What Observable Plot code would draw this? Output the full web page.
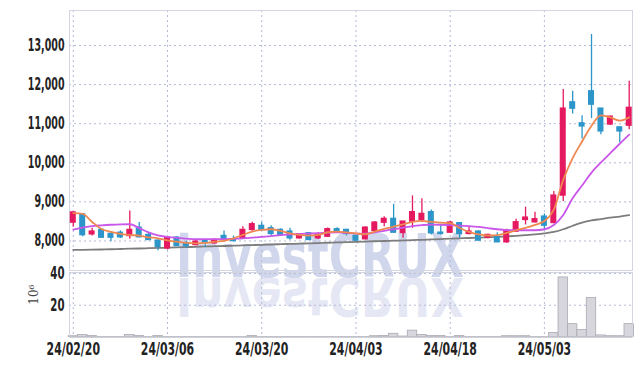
<!DOCTYPE html>
<html><head><meta charset="utf-8">
<script src="https://cdn.jsdelivr.net/npm/d3@7"></script>
<script src="https://cdn.jsdelivr.net/npm/@observablehq/plot@0.6"></script>
<style>
body{margin:0;background:#fff;}
#wrap{position:relative;width:643px;height:366px;overflow:hidden;background:#fff;}
#wrap > *{position:absolute;left:0;}
</style></head><body><div id="wrap"></div>
<script>
const dates = ["24/02/20","24/02/21","24/02/22","24/02/23","24/02/26","24/02/27","24/02/28","24/02/29","24/03/04","24/03/05",
"24/03/06","24/03/07","24/03/08","24/03/11","24/03/12","24/03/13","24/03/14","24/03/15","24/03/18","24/03/19",
"24/03/20","24/03/21","24/03/22","24/03/25","24/03/26","24/03/27","24/03/28","24/03/29","24/04/01","24/04/02",
"24/04/03","24/04/04","24/04/05","24/04/08","24/04/09","24/04/11","24/04/12","24/04/15","24/04/16","24/04/17",
"24/04/18","24/04/19","24/04/22","24/04/23","24/04/24","24/04/25","24/04/26","24/04/29","24/04/30","24/05/02",
"24/05/03","24/05/07","24/05/08","24/05/09","24/05/10","24/05/13","24/05/14","24/05/16","24/05/17","24/05/20"];
const open = [8470,8680,8170,8282,8180,8210,8128,8340,8154,8008,7810,8085,7940,7897,8000,7940,8128,8044,8069,8282,8385,8325,8282,8240,8069,8197,8069,8110,8300,8282,8128,8044,8260,8469,8565,8205,8495,8538,8736,8213,8213,8454,8180,8240,8085,8095,7967,8239,8538,8479,8623,8460,9162,11546,11008,11828,11385,10980,10905,10949];
const high = [8735,8700,8325,8290,8240,8260,8770,8470,8220,8026,8100,8110,7990,8040,8030,8050,8256,8128,8367,8480,8470,8390,8310,8325,8190,8220,8210,8330,8340,8300,8140,8360,8500,8620,8940,8500,9154,9077,8790,8400,8500,8460,8367,8260,8170,8213,8300,8556,8864,8736,8692,9264,11872,11828,11205,13282,11385,11190,10910,12085];
const low = [8360,8110,8128,8075,7982,8060,8045,8080,8010,7750,7770,7860,7820,7880,7830,7920,8000,7970,8050,8250,8260,8130,8130,8020,8050,8010,8040,8090,8190,8130,8000,8030,8240,8367,8200,8069,8325,8470,8150,8150,8200,8070,8160,8000,8060,7960,7940,8220,8410,8460,8300,8440,9008,11249,10608,11128,10718,10960,10505,10846];
const close = [8730,8150,8240,8085,8085,8095,8282,8095,8026,7850,8085,7870,7870,7982,7950,8026,8026,8000,8282,8428,8282,8180,8154,8069,8172,8026,8154,8300,8213,8180,8010,8341,8469,8565,8213,8495,8736,8692,8197,8180,8469,8180,8240,8010,8154,7967,8264,8479,8597,8556,8392,9160,11385,11385,10931,11487,10803,11179,10803,11405];
const volume = [0.5,1.2,0.6,0.05,0.05,0.05,1.2,0.6,0.05,0.6,0.05,0.05,0.05,0.05,0.05,0.05,0.05,0.05,0.05,0.6,0.05,0.05,0.05,0.05,0.05,0.05,0.05,0.05,0.05,0.05,0.05,0.05,0.5,0.6,2.0,0.3,4.0,1.3,0.6,0.6,0.05,0.6,0.05,0.05,0.05,0.05,0.5,0.5,0.5,0.05,0.05,2.6,37.5,8.1,4.4,24.6,1.0,0.5,0.5,8.1];
const ma5 = [8710,8692,8487,8308,8231,8180,8154,8136,8095,8069,8013,7982,7949,7940,7949,7982,8000,8069,8154,8240,8282,8300,8256,8197,8154,8136,8154,8223,8240,8218,8192,8172,8240,8308,8367,8423,8487,8513,8487,8469,8454,8333,8231,8167,8140,8150,8205,8274,8333,8410,8510,8800,9564,10120,10546,10949,11213,11162,11077,11162];
const ma20 = [8290,8340,8380,8400,8415,8425,8428,8330,8218,8141,8103,8077,8059,8044,8045,8045,8045,8055,8065,8085,8105,8125,8150,8165,8180,8190,8200,8215,8220,8210,8190,8185,8220,8260,8300,8340,8380,8405,8420,8415,8405,8395,8380,8360,8330,8300,8280,8275,8275,8275,8300,8410,8667,9094,9418,9750,10008,10249,10487,10718];
const ma60 = [7770,7775,7778,7782,7788,7795,7802,7808,7815,7822,7828,7835,7843,7850,7860,7866,7872,7880,7888,7895,7902,7910,7918,7925,7932,7940,7947,7955,7962,7970,7978,7985,7993,8000,8008,8015,8023,8030,8040,8050,8060,8068,8076,8085,8095,8105,8118,8132,8150,8170,8195,8230,8300,8390,8470,8525,8560,8595,8625,8660];
const priceTicks = [8000,9000,10000,11000,12000,13000];
const volTicks = [20,40];
const xTickIdx = [0,10,20,30,40,50];

const RED = "#e5195f", BLUE = "#2c95c9";
const F = "'DejaVu Sans',sans-serif";
const GRID = "#b4bad6";

const rows = dates.map((d,i)=>({i, date:d, open:open[i], high:high[i], low:low[i], close:close[i], vol:volume[i], ma5:ma5[i], ma20:ma20[i], ma60:ma60[i], up: close[i] >= open[i]}));
const col = d => d.up ? RED : BLUE;
const xDom = [-0.4, 59.35];

const wrap = document.getElementById("wrap");

// watermark (behind)
const ns = "http://www.w3.org/2000/svg";
const wm = document.createElementNS(ns, "svg");
wm.setAttribute("width", 643); wm.setAttribute("height", 366);
wm.innerHTML = `<g font-family="DejaVu Sans" font-weight="bold" font-size="60" text-anchor="middle" fill="#d0d6ec">
<g transform="translate(320,277) scale(0.73,1)"><text x="0" y="0">InvestCRUX</text></g>
<g transform="translate(320,278) scale(0.73,-0.9)" opacity="0.55"><text x="0" y="0">InvestCRUX</text></g></g>`;
wm.style.top = "0px";
wrap.appendChild(wm);

const p1 = Plot.plot({
  width: 643, height: 272,
  marginLeft: 69, marginRight: 11, marginTop: 10, marginBottom: 2,
  style: {background: "transparent", fontFamily: F, fontSize: "17px", fontWeight: "bold", color: "#222"},
  x: {domain: xDom, axis: null},
  y: {domain: [7245, 13895], label: null},
  marks: [
    Plot.gridY(priceTicks, {stroke: GRID, strokeOpacity: 1, strokeDasharray: "2,3"}),
    Plot.gridX(xTickIdx, {stroke: GRID, strokeOpacity: 1, strokeDasharray: "2,3"}),
    Plot.frame({stroke: "#d3d6e0"}),
    Plot.axisY(priceTicks, {tickSize: 0, tickPadding: 5, tickFormat: d3.format(","), fontWeight: "bold", label: null}),
    Plot.line(rows, {x: "i", y: "ma60", stroke: "#7d7d7d", strokeWidth: 1.8, curve: "monotone-x"}),
    Plot.ruleX(rows, {x: "i", y1: "low", y2: "high", stroke: col, strokeWidth: 1.3}),
    Plot.rect(rows, {x1: d => d.i - 0.32, x2: d => d.i + 0.32, y1: "open", y2: "close", fill: col, insetTop: -0.7, insetBottom: -0.7}),
    Plot.line(rows, {x: "i", y: "ma20", stroke: "#c957ea", strokeWidth: 1.8, curve: "monotone-x"}),
    Plot.line(rows, {x: "i", y: "ma5", stroke: "#ef8750", strokeWidth: 1.8, curve: "monotone-x"})
  ]
});
p1.style.top = "0px";
wrap.appendChild(p1);

const p2 = Plot.plot({
  width: 643, height: 104,
  marginLeft: 69, marginRight: 11, marginTop: 10, marginBottom: 29.5,
  style: {background: "transparent", fontFamily: F, fontSize: "17px", fontWeight: "bold", color: "#222"},
  x: {domain: xDom, label: null},
  y: {domain: [0, 40.6], label: null},
  marks: [
    Plot.gridY(volTicks, {stroke: GRID, strokeOpacity: 1, strokeDasharray: "2,3"}),
    Plot.gridX(xTickIdx, {stroke: GRID, strokeOpacity: 1, strokeDasharray: "2,3"}),
    Plot.rectY(rows, {x1: d => d.i - 0.5, x2: d => d.i + 0.5, y: "vol", fill: "#d6d6dc", stroke: "#aaaab4", strokeWidth: 0.8}),
    Plot.frame({stroke: "#d3d6e0"}),
    Plot.ruleY([0], {stroke: "#b8b8c0"}),
    Plot.axisY(volTicks, {tickSize: 0, tickPadding: 5, label: null}),
    Plot.axisX(xTickIdx, {tickSize: 0, tickPadding: 6, tickFormat: i => dates[i], label: null}),
    Plot.text(["10⁶"], {frameAnchor: "left", dx: -35, rotate: -90, fontSize: 12, fontWeight: "normal", fontFamily: "DejaVu Serif", fill: "#444"})
  ]
});
p2.style.top = "262px";
wrap.appendChild(p2);

// condense tick label glyphs horizontally (narrow display face in the reference)
function condense(svg, sel, k) {
  svg.querySelectorAll(sel).forEach(t => {
    const tr = t.getAttribute("transform");
    if (tr) {
      t.setAttribute("transform", tr + ` scale(${k},1)`);
    } else {
      const x = +(t.getAttribute("x") || 0);
      t.setAttribute("transform", `translate(${x},0) scale(${k},1) translate(${-x},0)`);
    }
  });
}
condense(p1, 'g[aria-label="y-axis tick label"] text', 0.56);
condense(p2, 'g[aria-label="y-axis tick label"] text', 0.6);
condense(p2, 'g[aria-label="x-axis tick label"] text', 0.64);
</script></body></html>
